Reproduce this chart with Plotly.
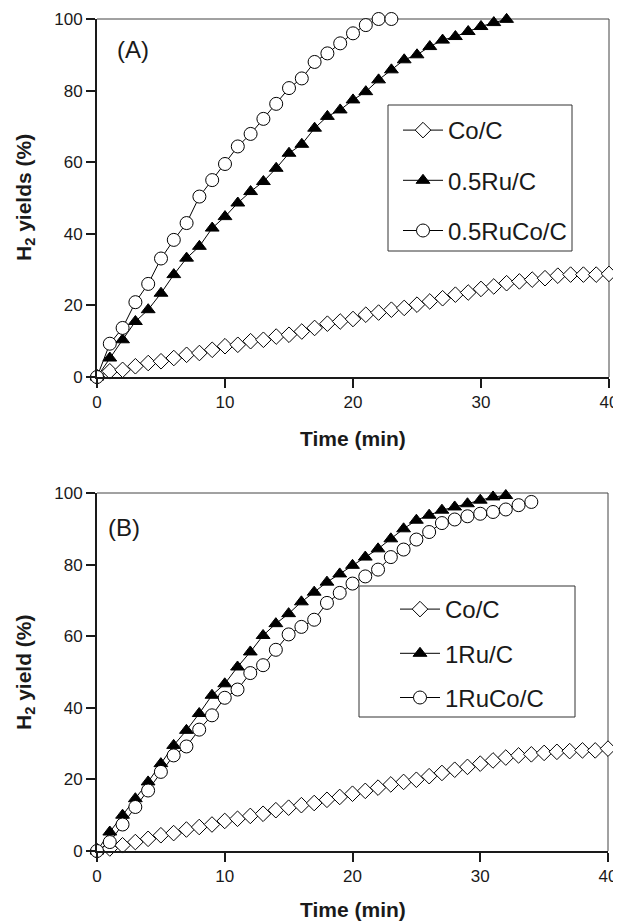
import plotly.graph_objects as go

# ---------------- data ----------------
time_co = list(range(0, 41))
co_c_A = [0, 1.6, 2.0, 3.0, 3.9, 4.4, 5.3, 6.2, 6.7, 7.6, 8.6, 9.0, 10.0, 10.4, 11.3, 11.8,
          12.7, 13.7, 14.9, 15.5, 16.2, 17.4, 18.0, 18.8, 19.3, 20.2, 21.1, 22.0, 23.0, 23.6,
          24.6, 25.3, 26.2, 26.7, 27.2, 27.6, 28.3, 28.6, 28.6, 28.6, 28.8]
time_ru_A = list(range(0, 33))
ru_c_A = [0, 5.3, 10.4, 15.5, 18.8, 23.4, 28.6, 33.2, 36.5, 41.6, 44.8, 48.6, 51.8, 54.6,
          58.3, 62.5, 65.0, 69.5, 72.8, 74.6, 77.4, 79.7, 83.0, 85.8, 88.6, 90.0, 92.3, 94.1,
          95.1, 96.5, 97.9, 99.0, 99.9]
time_ruco_A = list(range(0, 24))
ruco_c_A = [0, 9.3, 13.7, 20.9, 26.0, 33.1, 38.3, 43.0, 50.4, 55.0, 59.5, 64.4, 67.9, 72.1,
            76.3, 80.7, 83.4, 88.0, 90.4, 93.2, 96.0, 98.3, 100.0, 100.0]

co_c_B = [0, 0.7, 1.6, 2.5, 3.4, 4.4, 5.0, 6.0, 6.7, 7.4, 8.4, 9.0, 9.8, 10.4, 11.4, 12.1,
          12.8, 13.4, 14.3, 15.1, 16.0, 16.8, 17.7, 18.6, 19.3, 19.9, 20.9, 21.8, 22.7, 23.5,
          24.4, 25.3, 26.1, 26.7, 27.0, 27.4, 27.7, 27.9, 28.1, 28.1, 28.6]
time_ru_B = list(range(0, 33))
ru_c_B = [0, 5.3, 10.0, 14.6, 19.3, 24.4, 29.5, 33.7, 38.4, 43.5, 46.7, 51.4, 55.6, 60.2,
          63.5, 66.3, 69.6, 72.3, 75.1, 77.4, 79.8, 82.1, 84.4, 87.2, 90.0, 92.4, 93.8, 95.2,
          96.1, 97.0, 98.0, 98.9, 99.3]
time_ruco_B = list(range(0, 35))
ruco_c_B = [0, 2.5, 7.4, 12.3, 16.9, 22.1, 26.7, 29.2, 33.9, 37.9, 42.8, 45.1, 49.7, 51.9,
            56.2, 60.5, 62.6, 64.6, 69.3, 72.1, 74.7, 76.7, 78.6, 82.1, 84.2, 87.0, 89.1, 91.6,
            92.6, 93.5, 94.2, 94.7, 95.4, 96.6, 97.5]

names_A = ["Co/C", "0.5Ru/C", "0.5RuCo/C"]
names_B = ["Co/C", "1Ru/C", "1RuCo/C"]
x_ticks = [0, 10, 20, 30, 40]
y_ticks = [0, 20, 40, 60, 80, 100]

# ---------------- figure ----------------
# The page body has an 8px default margin; all pixel targets below are page
# coordinates and are converted to paper fractions of the figure.
OFF = 8
W, H = 621 - OFF, 921 - OFF
FONT = "Liberation Sans, Arial, sans-serif"
INK = "#1a1a1a"

fig = go.Figure()

styles = [
    dict(symbol="diamond", color="white", size=12),
    dict(symbol="triangle-up", color="black", size=12),
    dict(symbol="circle", color="white", size=13),
]

def add_panel(xs, ys, names, xa, ya, legend):
    for (x, y, name, st) in zip(xs, ys, names, styles):
        fig.add_trace(go.Scatter(
            x=x, y=y, name=name, mode="lines+markers",
            xaxis=xa, yaxis=ya, legend=legend, legendgroup=legend + name,
            line=dict(color="black", width=1),
            marker=dict(symbol=st["symbol"], color=st["color"], size=st["size"],
                        line=dict(color="black", width=1)),
            cliponaxis=False,
        ))

add_panel([time_co, time_ru_A, time_ruco_A], [co_c_A, ru_c_A, ruco_c_A], names_A, "x", "y", "legend")
add_panel([time_co, time_ru_B, time_ruco_B], [co_c_B, ru_c_B, ruco_c_B], names_B, "x2", "y2", "legend2")

def px_x(p):
    return (p - OFF) / W

def px_y(p):
    return 1 - (p - OFF) / H

# plot area pixel bounds (page coordinates)
A = dict(l=97, r=609, t=19, b=377)
B = dict(l=97, r=608, t=493, b=851)

axis_common = dict(
    showline=True, linewidth=2, linecolor=INK, mirror=False,
    ticks="outside", ticklen=9, tickwidth=1.5, tickcolor=INK,
    showgrid=False, zeroline=False, automargin=False,
    ticklabeloverflow="allow",
    tickfont=dict(family=FONT, size=17, color=INK),
)

legend_common = dict(
    xanchor="left", yanchor="top",
    borderwidth=0, bgcolor="rgba(0,0,0,0)",
    font=dict(family=FONT, size=24, color=INK),
    traceorder="grouped", itemwidth=40,
)

fig.update_layout(
    width=W, height=H,
    margin=dict(l=0, r=0, t=0, b=0),
    paper_bgcolor="white", plot_bgcolor="white",
    showlegend=True,
    xaxis=dict(domain=[px_x(A["l"]), px_x(A["r"])], range=[0, 40], tickvals=x_ticks,
               anchor="y", **axis_common),
    yaxis=dict(domain=[px_y(A["b"]), px_y(A["t"])], range=[0, 100], tickvals=y_ticks,
               anchor="x", **axis_common),
    xaxis2=dict(domain=[px_x(B["l"]), px_x(B["r"])], range=[0, 40], tickvals=x_ticks,
                anchor="y2", **axis_common),
    yaxis2=dict(domain=[px_y(B["b"]), px_y(B["t"])], range=[0, 100], tickvals=y_ticks,
                anchor="x2", **axis_common),
    legend=dict(x=px_x(398), y=px_y(108), tracegroupgap=16, **legend_common),
    legend2=dict(x=px_x(395), y=px_y(587), tracegroupgap=10, **legend_common),
)

# thin top/right frame lines
for xr, yr in (("x", "y"), ("x2", "y2")):
    fig.add_shape(type="line", xref=xr + " domain", yref=yr + " domain",
                  x0=0, x1=1, y0=1, y1=1, line=dict(color="#444", width=1), layer="below")
    fig.add_shape(type="line", xref=xr + " domain", yref=yr + " domain",
                  x0=1, x1=1, y0=0, y1=1, line=dict(color="#444", width=1), layer="below")

# legend frames
for (l, r, t, b) in ((388, 572, 105, 251), (359, 575, 586, 717)):
    fig.add_shape(type="rect", xref="paper", yref="paper",
                  x0=px_x(l), x1=px_x(r), y0=px_y(b), y1=px_y(t),
                  line=dict(color="#333", width=1), fillcolor="white", layer="above")

annots = [
    dict(text="(A)", x=px_x(133), y=px_y(50), font=dict(family=FONT, size=24, color=INK)),
    dict(text="(B)", x=px_x(124), y=px_y(527), font=dict(family=FONT, size=24, color=INK)),
    dict(text="<b>Time (min)</b>", x=px_x(353), y=px_y(438), font=dict(family=FONT, size=21, color=INK)),
    dict(text="<b>Time (min)</b>", x=px_x(353), y=px_y(909), font=dict(family=FONT, size=21, color=INK)),
    dict(text="<b>H<sub>2</sub> yields (%)</b>", x=px_x(25), y=px_y(198), textangle=-90,
         font=dict(family=FONT, size=21, color=INK)),
    dict(text="<b>H<sub>2</sub> yield (%)</b>", x=px_x(25), y=px_y(672), textangle=-90,
         font=dict(family=FONT, size=21, color=INK)),
]
for a in annots:
    fig.add_annotation(xref="paper", yref="paper", xanchor="center", yanchor="middle",
                       showarrow=False, **a)

fig.write_html("out.html")
